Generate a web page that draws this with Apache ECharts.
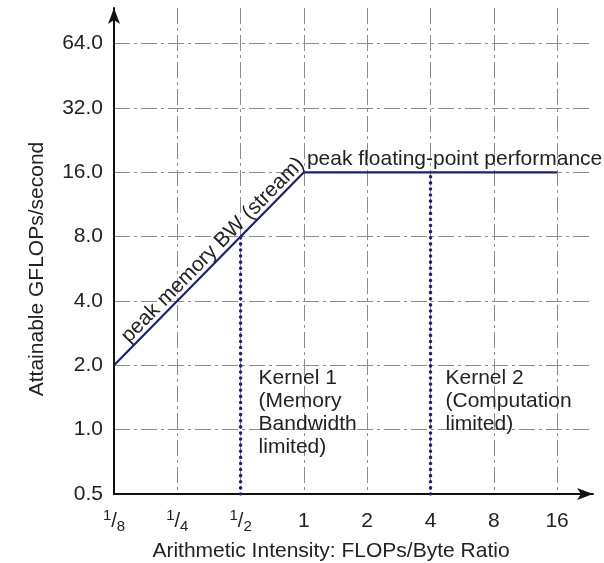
<!DOCTYPE html>
<html>
<head>
<meta charset="utf-8">
<script src="https://cdn.jsdelivr.net/npm/echarts@6/dist/echarts.min.js"></script>
<style>html,body{margin:0;padding:0;background:#fff}#c{width:604px;height:563px}</style>
</head>
<body>
<div id="c"></div>
<script>
const xTickValues = [0.125, 0.25, 0.5, 1, 2, 4, 8, 16];
const xTickLabels = ['1/8', '1/4', '1/2', '1', '2', '4', '8', '16'];
const yTickValues = [0.5, 1, 2, 4, 8, 16, 32, 64];
const yTickLabels = ['0.5', '1.0', '2.0', '4.0', '8.0', '16.0', '32.0', '64.0'];
const roofX = [0.125, 1, 16];
const roofY = [2, 16, 16];
const kernel1X = [0.5, 0.5];
const kernel1Y = [0.5, 8];
const kernel2X = [4, 4];
const kernel2Y = [0.5, 16];
const xTitle = 'Arithmetic Intensity: FLOPs/Byte Ratio';
const yTitle = 'Attainable GFLOPs/second';
const roofLabel = 'peak floating-point performance';
const bwLabel = 'peak memory BW (stream)';
const kernel1Label = 'Kernel 1\n(Memory\nBandwidth\nlimited)';
const kernel2Label = 'Kernel 2\n(Computation\nlimited)';

const FONT = 'Liberation Sans, Arial, sans-serif';
const FS = 21;
const NAVY = '#1c1f7c';
const zip = (a, b) => a.map((v, i) => [v, b[i]]);
const lookup = (vals, labels) => (v) => {
  for (let i = 0; i < vals.length; i++) {
    if (Math.abs(Math.log2(v) - Math.log2(vals[i])) < 1e-6) return labels[i];
  }
  return '';
};
const xFmt = (v) => {
  const s = lookup(xTickValues, xTickLabels)(v);
  const m = s.match(/^(\d+)\/(\d+)$/);
  return m ? '{n|' + m[1] + '}{s|/}{d|' + m[2] + '}' : s;
};

const chart = echarts.init(document.getElementById('c'), null, {renderer: 'canvas'});
const gridLine = {show: true, showMaxLine: false, lineStyle: {color: '#8c8c8c', width: 1, type: [16, 4, 3, 4]}};
chart.setOption({
  animation: false,
  grid: {left: 114, right: 11, top: 8, bottom: 69},
  xAxis: {
    type: 'log', logBase: 2, min: 0.125, max: 23.7,
    axisLine: {show: true, lineStyle: {color: '#111', width: 2}, symbol: ['none', 'arrow'], symbolSize: [9, 16]},
    axisTick: {show: false},
    axisLabel: {
      formatter: xFmt, color: '#222', fontFamily: FONT, fontSize: FS, margin: 14, showMaxLabel: false, lineHeight: 26,
      rich: {
        n: {fontFamily: FONT, fontSize: 15, color: '#222', verticalAlign: 'top'},
        s: {fontFamily: FONT, fontSize: 20, color: '#222', lineHeight: 26},
        d: {fontFamily: FONT, fontSize: 15, color: '#222', verticalAlign: 'bottom'}
      }
    },
    splitLine: gridLine
  },
  yAxis: {
    type: 'log', logBase: 2, min: 0.5, max: 94,
    axisLine: {show: true, lineStyle: {color: '#111', width: 2}, symbol: ['none', 'arrow'], symbolSize: [9, 16]},
    axisTick: {show: false},
    axisLabel: {formatter: lookup(yTickValues, yTickLabels), color: '#222', fontFamily: FONT, fontSize: FS, margin: 11, showMaxLabel: false},
    splitLine: gridLine
  },
  series: [
    {type: 'line', data: zip(roofX, roofY), symbol: 'none', lineStyle: {color: NAVY, width: 2.2}, z: 5},
    {type: 'line', data: zip(kernel1X, kernel1Y), symbol: 'none', lineStyle: {color: NAVY, width: 3.5, type: [0.1, 6], cap: 'round'}, z: 4},
    {type: 'line', data: zip(kernel2X, kernel2Y), symbol: 'none', lineStyle: {color: NAVY, width: 3.5, type: [0.1, 6], cap: 'round'}, z: 4}
  ]
});

const p = (x, y) => chart.convertToPixel({gridIndex: 0}, [x, y]);
const bwAnchor = p(0.4, 2 * 0.4 / 0.125);
const roofAnchor = p(1, 16);
const k1 = p(0.5, 2);
const k2 = p(4, 2);
const ang = Math.atan2(p(0.125, 2)[1] - p(1, 16)[1], p(1, 16)[0] - p(0.125, 2)[0]);
const txt = {fontFamily: FONT, fontSize: FS, fill: '#222'};
chart.setOption({
  graphic: [
    {type: 'text', x: 37, y: 269, rotation: Math.PI / 2, style: Object.assign({text: yTitle, align: 'center', verticalAlign: 'middle'}, txt)},
    {type: 'text', x: 331, y: 551, style: Object.assign({text: xTitle, align: 'center', verticalAlign: 'middle'}, txt)},
    {type: 'text', x: roofAnchor[0] + 3, y: roofAnchor[1] - 3, style: Object.assign({text: roofLabel, align: 'left', verticalAlign: 'bottom'}, txt)},
    {type: 'text', x: bwAnchor[0], y: bwAnchor[1], rotation: ang, style: Object.assign({text: bwLabel, align: 'center', verticalAlign: 'bottom'}, txt)},
    {type: 'text', x: k1[0] + 18, y: k1[1] + 1, style: Object.assign({text: kernel1Label, align: 'left', verticalAlign: 'top', lineHeight: 23}, txt)},
    {type: 'text', x: k2[0] + 15, y: k2[1] + 1, style: Object.assign({text: kernel2Label, align: 'left', verticalAlign: 'top', lineHeight: 23}, txt)}
  ]
});
</script>
</body>
</html>
